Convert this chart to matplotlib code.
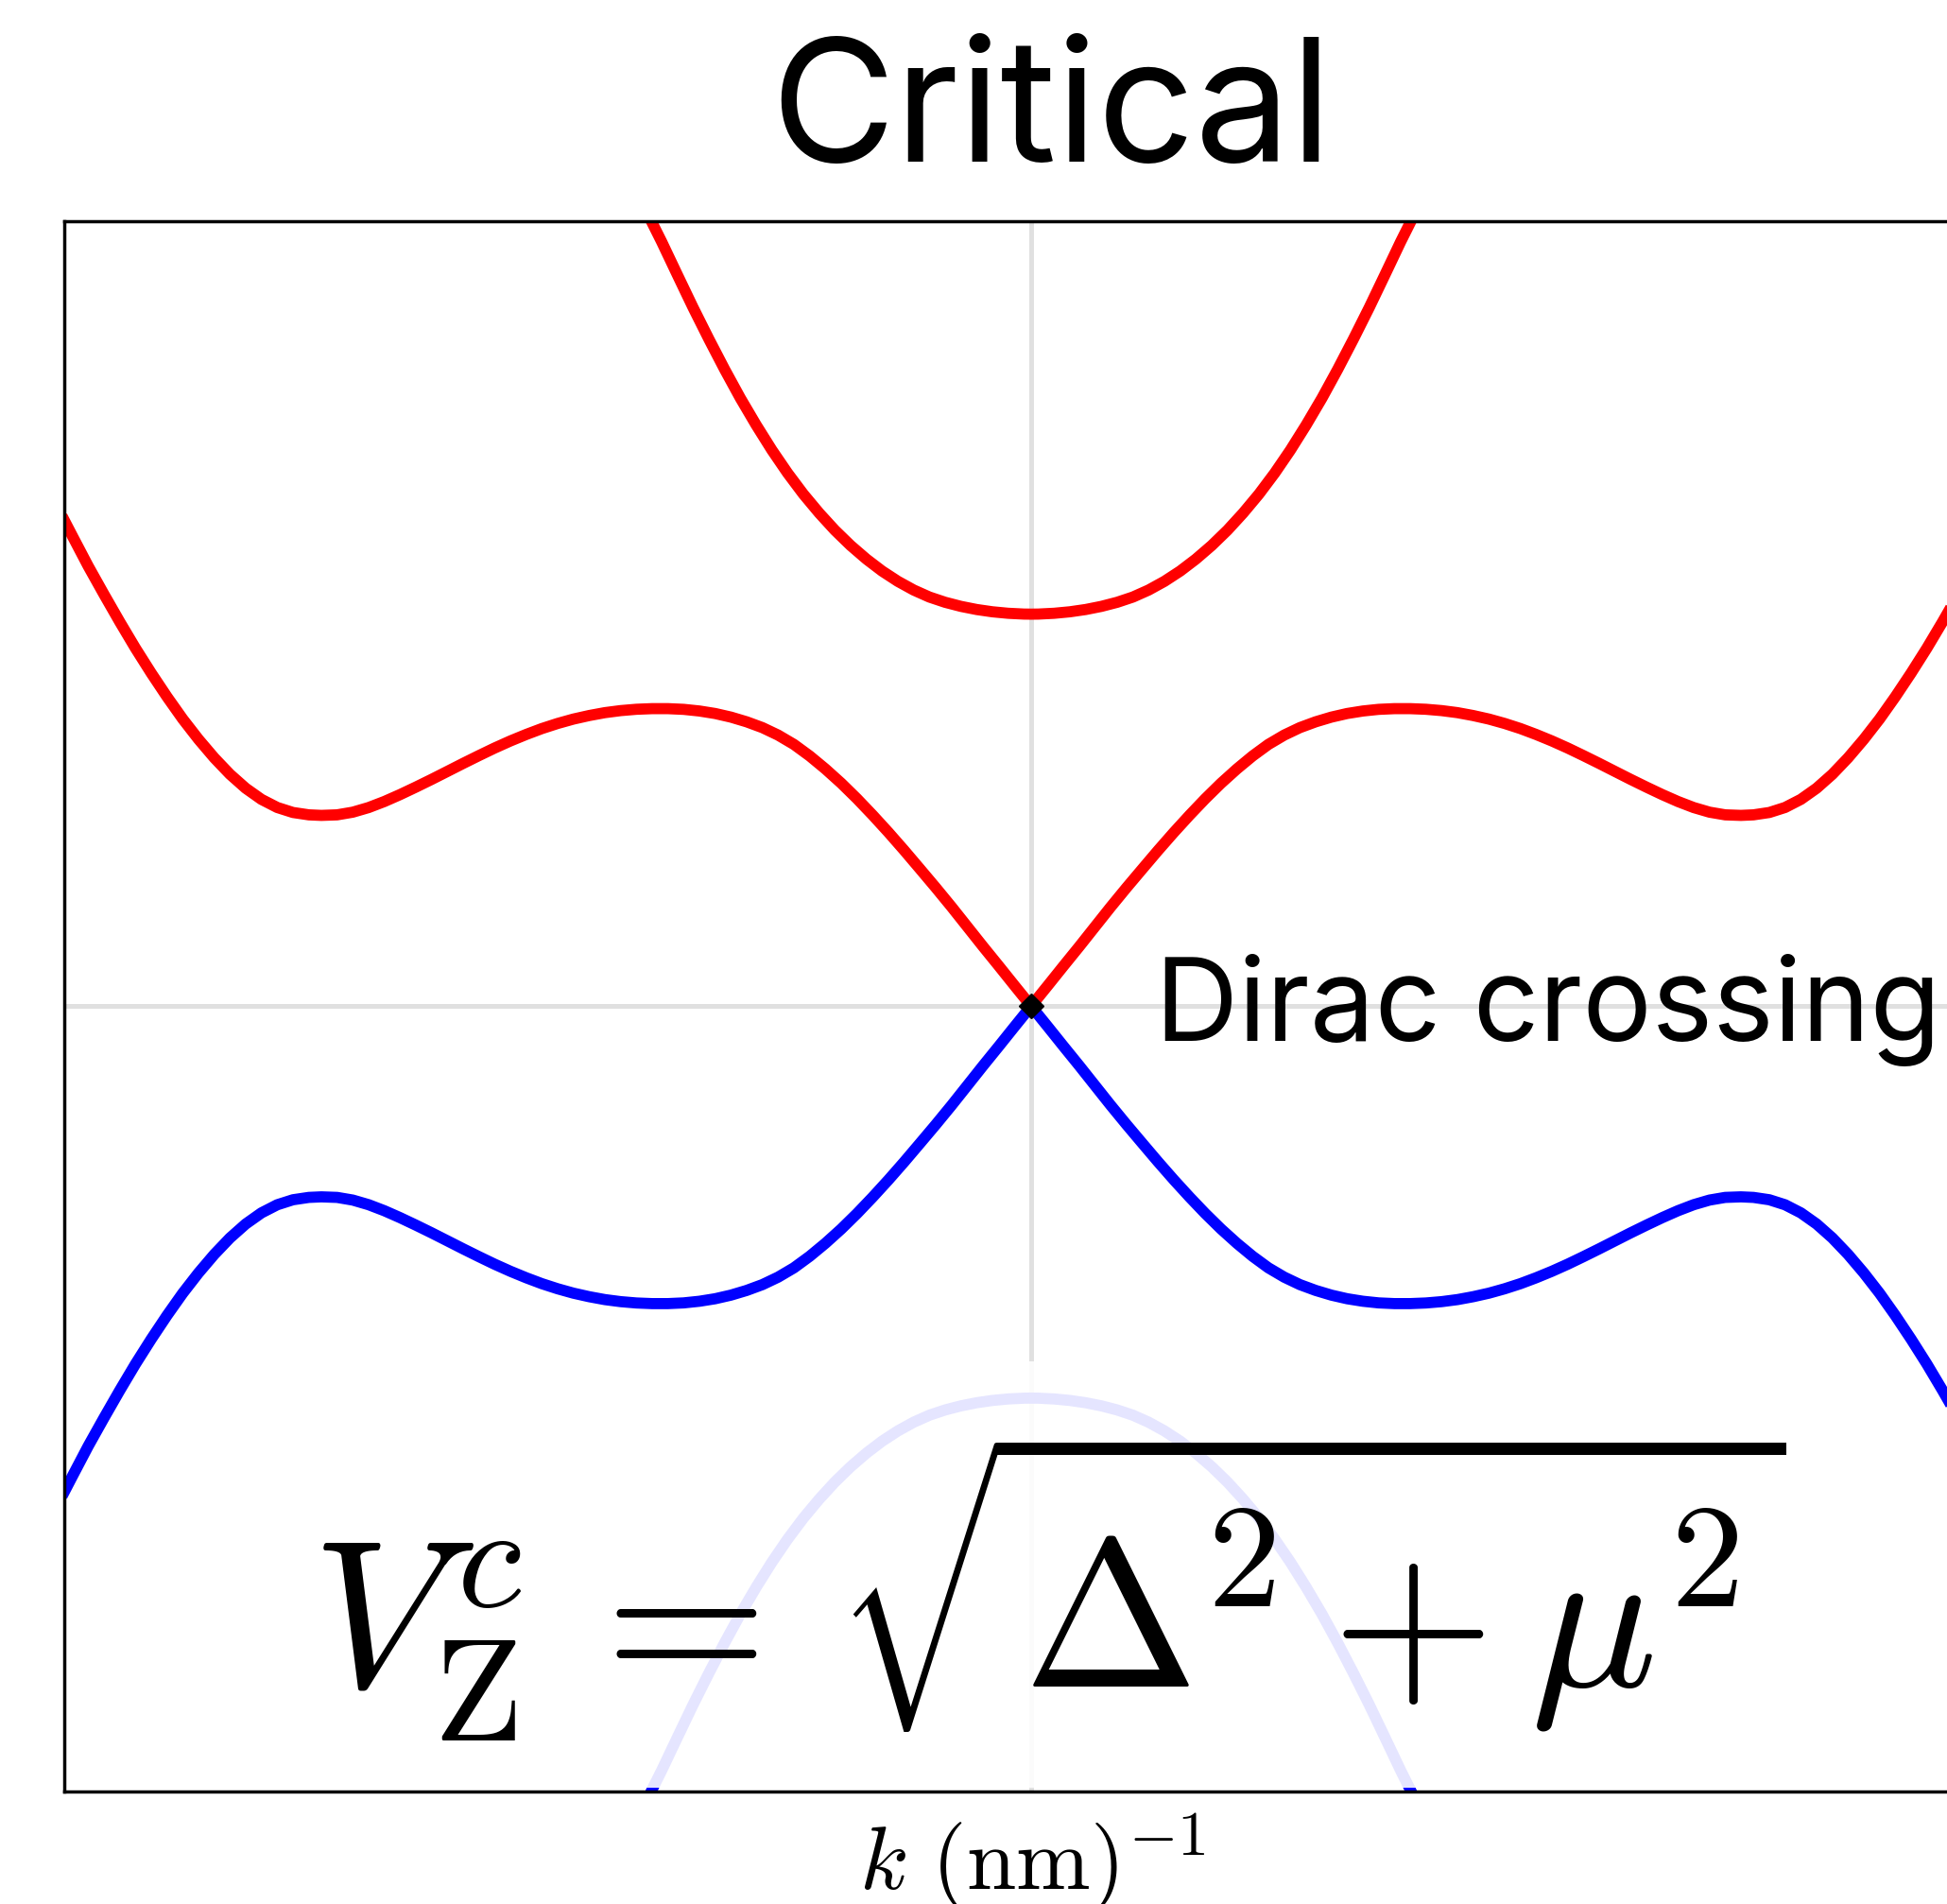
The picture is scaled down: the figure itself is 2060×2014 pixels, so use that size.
import numpy as np
import matplotlib
matplotlib.use("Agg")
import matplotlib.pyplot as plt
from matplotlib.patches import Rectangle

plt.rcParams['mathtext.fontset'] = 'cm'
plt.rcParams['font.family'] = ['Inter', 'DejaVu Sans']

# Bands at the critical Zeeman field, k >= 0 half (curves are even in k,
# negative-energy branches are the particle-hole partners of these).
k_inner = np.array([
    0.0, 0.0173, 0.0335, 0.0499, 0.0662, 0.0824, 0.0988, 0.1151, 0.1313,
    0.1476, 0.1640, 0.1802, 0.1965, 0.2129, 0.2291, 0.2454, 0.2618, 0.2780,
    0.2943, 0.3106, 0.3269, 0.3432, 0.3595, 0.3758, 0.3921, 0.4084, 0.4247,
    0.4410, 0.4573, 0.4736, 0.4899, 0.5062, 0.5224, 0.5388, 0.5551, 0.5713,
    0.5877, 0.6040, 0.6202, 0.6366, 0.6529, 0.6691, 0.6854, 0.7018, 0.7180,
    0.7343, 0.7473, 0.7637, 0.7800, 0.7963, 0.8126, 0.8289, 0.8451, 0.8614,
    0.8778, 0.8940, 0.9103, 0.9267, 0.9429, 0.9592, 0.9756, 0.9918, 1.0
])
e_inner = np.array([
    0.0, 0.0263, 0.0512, 0.0761, 0.1014, 0.1265, 0.1511, 0.1749, 0.1984,
    0.2213, 0.2434, 0.2643, 0.2840, 0.3022, 0.3187, 0.3334, 0.3453, 0.3548,
    0.3622, 0.3682, 0.3728, 0.3760, 0.3781, 0.3790, 0.3790, 0.3782, 0.3765,
    0.3739, 0.3702, 0.3657, 0.3601, 0.3536, 0.3461, 0.3378, 0.3288, 0.3192,
    0.3092, 0.2990, 0.2889, 0.2790, 0.2695, 0.2607, 0.2530, 0.2471, 0.2437,
    0.2430, 0.2437, 0.2467, 0.2531, 0.2634, 0.2776, 0.2954, 0.3163, 0.3399,
    0.3659, 0.3941, 0.4242, 0.4561, 0.4896, 0.5246, 0.5607, 0.5987, 0.6181
])

k_outer = np.array([
    0.0, 0.0075, 0.0238, 0.0401, 0.0564, 0.0727, 0.0890, 0.1053, 0.1215,
    0.1379, 0.1542, 0.1704, 0.1868, 0.2031, 0.2193, 0.2357, 0.2520, 0.2682,
    0.2845, 0.3009, 0.3171, 0.3334, 0.3498, 0.3660, 0.3823, 0.3921, 0.41
])
e_outer = np.array([
    0.4994, 0.4995, 0.5005, 0.5024, 0.5053, 0.5093, 0.5145, 0.5212, 0.5301,
    0.5412, 0.5543, 0.5695, 0.5869, 0.6064, 0.6282, 0.6524, 0.6792, 0.7084,
    0.7404, 0.7747, 0.8112, 0.8498, 0.8901, 0.9317, 0.9739, 0.9980, 1.043
])


def both_sides(k, e):
    return np.concatenate([-k[::-1], k[1:]]), np.concatenate([e[::-1], e[1:]])


ki, ei = both_sides(k_inner, e_inner)
ko, eo = both_sides(k_outer, e_outer)

fig = plt.figure(figsize=(20.6, 20.15), dpi=100)
ax = fig.add_axes([68.3 / 2060, 119.5 / 2015, 2045.4 / 2060, 1660.5 / 2015])

ax.axhline(0, color='#e0e0e0', lw=3.6, zorder=1)
ax.axvline(0, color='#e0e0e0', lw=3.6, zorder=1)

lw = 8.5
ax.plot(ko, eo, color='red', lw=lw, zorder=2)
ax.plot(ki, ei, color='red', lw=lw, zorder=2)
ax.plot(ki, -ei, color='blue', lw=lw, zorder=2)
ax.plot(ko, -eo, color='blue', lw=lw, zorder=2)
ax.plot([0], [0], marker='D', color='black', ms=13, zorder=3)

ax.text(0.128, -0.043, 'Dirac crossing', fontsize=88, ha='left', va='baseline', zorder=3)

# translucent panel behind the formula
ax.add_patch(Rectangle((-0.783, -0.996), 1.619, 0.543, facecolor='white',
                       edgecolor='none', alpha=0.9, zorder=4))
ax.text(-0.745, -0.866, r'$V_{\mathrm{Z}}^{c}\,=\,\sqrt{\Delta^2+\mu^2}$',
        fontsize=160, ha='left', va='baseline', zorder=5)

ax.set_xlim(-1, 1)
ax.set_ylim(-1, 1)
ax.set_xticks([])
ax.set_yticks([])
for s in ax.spines.values():
    s.set_linewidth(2.5)

fig.text(1112 / 2060, 1 - 170.8 / 2015, 'Critical', fontsize=130,
         ha='center', va='baseline')
fig.text(1092 / 2060, 1 - 1999 / 2015, r'$k\ (\mathrm{nm})^{-1}$',
         fontsize=68, ha='center', va='baseline')

fig.savefig('out.png', dpi=100)
